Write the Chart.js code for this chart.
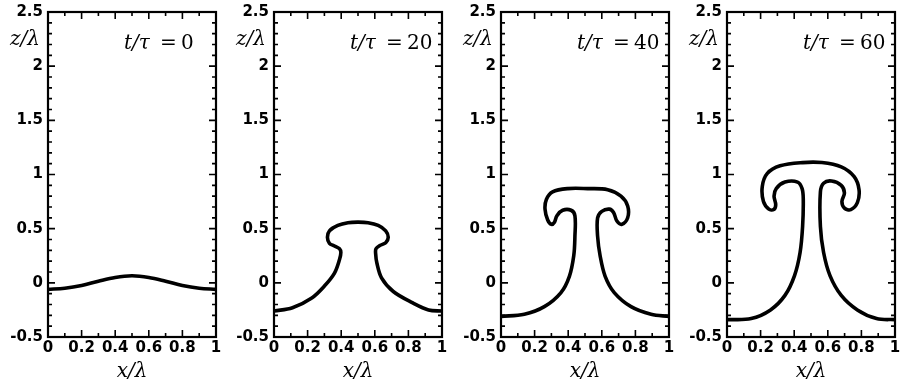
<!DOCTYPE html>
<html>
<head>
<meta charset="utf-8">
<script src="https://cdn.jsdelivr.net/npm/chart.js@4.4.1/dist/chart.umd.min.js"></script>
<style>
	body { margin: 0; background: #fff; }
	#wrap { position: relative; width: 901px; height: 390px; background: #fff; }
	.panel { position: absolute; top: 0; width: 225px; height: 390px; }
</style>
</head>
<body>
<div id="wrap">
	<div class="panel" style="left:0px"><canvas id="c0" width="225" height="390"></canvas></div>
	<div class="panel" style="left:226px"><canvas id="c1" width="225" height="390"></canvas></div>
	<div class="panel" style="left:453px"><canvas id="c2" width="225" height="390"></canvas></div>
	<div class="panel" style="left:679px"><canvas id="c3" width="225" height="390"></canvas></div>
</div>
<script>

/* Data - interface position at each time */
var times = [0, 20, 40, 60];

var x0 = [0, 0.1, 0.2, 0.3, 0.4, 0.5, 0.6, 0.7, 0.8, 0.9, 1];
var z0 = [-0.06, -0.05, -0.025, 0.015, 0.05, 0.065, 0.05, 0.015, -0.025, -0.05, -0.06];

var x20 = [0, 0.11, 0.225, 0.30, 0.36, 0.39, 0.398, 0.39, 0.36, 0.33, 0.318, 0.33, 0.38, 0.44, 0.5, 0.56, 0.62, 0.665, 0.68, 0.665, 0.63, 0.607, 0.605, 0.612, 0.64, 0.71, 0.826, 0.92, 1];
var z20 = [-0.26, -0.23, -0.14, -0.03, 0.09, 0.215, 0.28, 0.315, 0.34, 0.365, 0.42, 0.48, 0.53, 0.555, 0.56, 0.555, 0.53, 0.48, 0.42, 0.37, 0.345, 0.315, 0.27, 0.185, 0.046, -0.08, -0.185, -0.25, -0.26];

var x40 = [0, 0.139, 0.258, 0.357, 0.407, 0.433, 0.44, 0.44, 0.417, 0.367, 0.333, 0.318, 0.30, 0.278, 0.262, 0.27, 0.307, 0.397, 0.516, 0.635, 0.714, 0.754, 0.754, 0.72, 0.69, 0.67, 0.645, 0.60, 0.575, 0.575, 0.59, 0.62, 0.674, 0.774, 0.893, 1];
var z40 = [-0.31, -0.29, -0.22, -0.09, 0.06, 0.25, 0.43, 0.62, 0.67, 0.67, 0.62, 0.56, 0.54, 0.58, 0.68, 0.77, 0.84, 0.87, 0.87, 0.86, 0.80, 0.71, 0.60, 0.54, 0.57, 0.65, 0.68, 0.66, 0.60, 0.43, 0.25, 0.06, -0.09, -0.22, -0.29, -0.31];

var x60 = [0, 0.144, 0.259, 0.345, 0.402, 0.435, 0.45, 0.454, 0.447, 0.42, 0.345, 0.293, 0.28, 0.29, 0.278, 0.249, 0.217, 0.21, 0.24, 0.316, 0.45, 0.565, 0.68, 0.757, 0.786, 0.776, 0.737, 0.699, 0.684, 0.699, 0.68, 0.622, 0.575, 0.556, 0.556, 0.575, 0.613, 0.68, 0.776, 0.89, 1];
var z60 = [-0.34, -0.33, -0.25, -0.116, 0.067, 0.28, 0.52, 0.77, 0.87, 0.93, 0.93, 0.87, 0.80, 0.72, 0.676, 0.68, 0.75, 0.89, 1.01, 1.08, 1.11, 1.11, 1.07, 0.98, 0.86, 0.74, 0.676, 0.69, 0.75, 0.83, 0.90, 0.94, 0.92, 0.84, 0.52, 0.28, 0.067, -0.116, -0.25, -0.33, -0.34];

var xs = [x0, x20, x40, x60];
var zs = [z0, z20, z40, z60];

var tickFont = { family: '"DejaVu Sans", sans-serif', size: 15, weight: 'bold' };
var serif = '"DejaVu Serif", serif';

function tickText(v) {
	return String(Math.round(v * 10) / 10);
}

/* ********************************
    frame, inward ticks and labels
******************************** */
var framePlugin = {
	id: 'frame',
	afterDatasetsDraw: function(chart, args, opts) {
		var ctx = chart.ctx;
		var a = chart.chartArea;
		var sx = chart.scales.x, sy = chart.scales.y;
		var i, p, len;

		ctx.save();
		ctx.strokeStyle = '#000';
		ctx.lineWidth = 1.6;
		ctx.beginPath();
		for (i = 1; i < 10; i++) {
			p = sx.getPixelForValue(i / 10);
			len = (i % 2 == 0) ? 7 : 4;
			ctx.moveTo(p, a.bottom); ctx.lineTo(p, a.bottom - len);
			ctx.moveTo(p, a.top); ctx.lineTo(p, a.top + len);
		}
		for (i = -4; i < 25; i++) {
			p = sy.getPixelForValue(i / 10);
			len = (i % 5 == 0) ? 7 : 4;
			ctx.moveTo(a.left, p); ctx.lineTo(a.left + len, p);
			ctx.moveTo(a.right, p); ctx.lineTo(a.right - len, p);
		}
		ctx.stroke();

		ctx.lineWidth = 2.2;
		ctx.strokeRect(a.left, a.top, a.right - a.left, a.bottom - a.top);

		ctx.fillStyle = '#000';
		ctx.textBaseline = 'alphabetic';

		// axis titles
		ctx.font = 'italic 20px ' + serif;
		ctx.textAlign = 'center';
		ctx.fillText('x/\u03bb', (a.left + a.right) / 2, 377);
		ctx.fillText('z/\u03bb', 25, 45);

		// time label
		ctx.textAlign = 'left';
		ctx.fillText('t/\u03c4', 124, 49);
		ctx.font = '20px ' + serif;
		ctx.fillText('=', 160, 49);
		ctx.fillText(String(opts.time), 181, 49);
		ctx.restore();
	}
};

function buildPanel(k) {
	var pts = [];
	for (var i = 0; i < xs[k].length; i++) {
		pts.push({ x: xs[k][i], y: zs[k][i] });
	}

	return new Chart(document.getElementById('c' + k), {
		type: 'scatter',
		data: {
			datasets: [{
				data: pts,
				showLine: true,
				borderColor: '#000',
				borderWidth: 3.6,
				pointRadius: 0,
				tension: 0.35,
				fill: false
			}]
		},
		options: {
			responsive: false,
			animation: false,
			events: [],
			layout: { padding: { top: 12, right: 9, bottom: 0, left: 0 } },
			plugins: {
				legend: { display: false },
				tooltip: { enabled: false },
				frame: { time: times[k] }
			},
			scales: {
				x: {
					type: 'linear',
					min: 0,
					max: 1,
					ticks: { stepSize: 0.2, color: '#000', font: tickFont, padding: 2, maxRotation: 0, callback: tickText },
					grid: { display: false, drawTicks: false },
					border: { display: false },
					afterFit: function(s) {
						s.height = 53;
						s.paddingLeft = 0; s.paddingRight = 0;
					}
				},
				y: {
					type: 'linear',
					min: -0.5,
					max: 2.5,
					ticks: { stepSize: 0.5, color: '#000', font: tickFont, padding: 5, callback: tickText },
					grid: { display: false, drawTicks: false },
					border: { display: false },
					afterFit: function(s) {
						s.width = 48;
						s.paddingTop = 0; s.paddingBottom = 0;
					}
				}
			}
		},
		plugins: [framePlugin]
	});
}

for (var k = 0; k < times.length; k++) {
	buildPanel(k);
}

</script>
</body>
</html>
